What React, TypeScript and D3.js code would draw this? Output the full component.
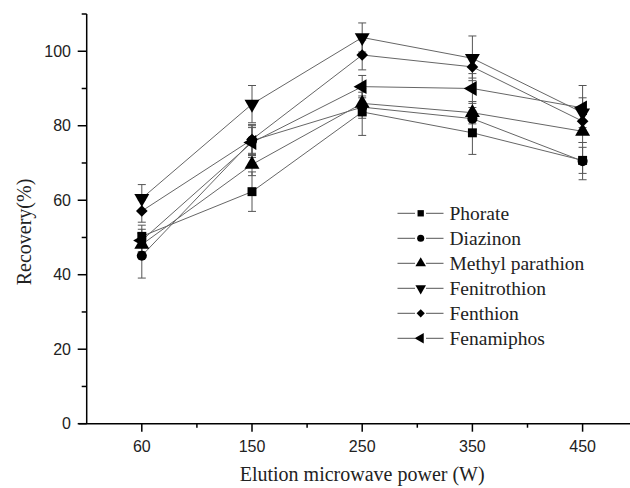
import React, { useEffect, useRef } from 'react';
import * as d3 from 'd3';

// Elution microwave power (W) categories
const powers = ['60', '150', '250', '350', '450'];
const seriesNames = ['Phorate', 'Diazinon', 'Methyl parathion', 'Fenitrothion', 'Fenthion', 'Fenamiphos'];

// recovery (%) per compound
const phorate = [50.3, 62.3, 83.7, 78.1, 70.7];
const diazinon = [45.1, 76.0, 85.0, 81.9, 70.5];
const methylParathion = [48.1, 69.6, 86.0, 83.5, 78.5];
const fenitrothion = [60.5, 85.8, 103.7, 98.1, 83.5];
const fenthion = [57.1, 76.3, 99.0, 95.8, 81.2];
const fenamiphos = [49.2, 75.5, 90.5, 90.0, 84.8];

// error bar half-widths
const phorateErr = [3, 5.3, 6.3, 5.8, 3.5];
const diazinonErr = [6, 4, 3, 3, 5];
const methylParathionErr = [3, 3, 3, 3, 3];
const fenitrothionErr = [3.7, 5, 3.9, 6, 4];
const fenthionErr = [3, 4, 4, 3, 3];
const fenamiphosErr = [3, 4, 3, 4, 6];

const yMajor = [0, 20, 40, 60, 80, 100];
const yMinor = [10, 30, 50, 70, 90, 110];

const values = [phorate, diazinon, methylParathion, fenitrothion, fenthion, fenamiphos];
const errors = [phorateErr, diazinonErr, methylParathionErr, fenitrothionErr, fenthionErr, fenamiphosErr];

const width = 630;
const height = 488;

// symbol type, rotation, scale for each series
const shapes: [d3.SymbolType, number, number][] = [
    [d3.symbolSquare, 0, 1],
    [d3.symbolCircle, 0, 1],
    [d3.symbolTriangle, 0, 1.1],
    [d3.symbolTriangle, 180, 1.1],
    [d3.symbolSquare, 45, 0.92],
    [d3.symbolTriangle, -90, 1.1],
];

export default function App() {
    const ref = useRef<SVGSVGElement>(null);

    useEffect(() => {
        const svg = d3.select(ref.current);
        svg.selectAll('*').remove();

        const left = 86.7, bottom = 423.7;
        const x = d3.scalePoint<string>().domain(powers).range([left, 637.7]).padding(0.5);
        const y = d3.scaleLinear().domain([0, 110]).range([bottom, 14]);

        const sym = (i: number, area: number) => {
            const [type, , k] = shapes[i];
            return d3.symbol().type(type).size(area * k * k)() as string;
        };

        // connecting lines
        const line = d3.line<number>().x((_, j) => x(powers[j]) as number).y(d => y(d));
        values.forEach(v => {
            svg.append('path')
                .attr('d', line(v))
                .attr('fill', 'none')
                .attr('stroke', '#666')
                .attr('stroke-width', 1);
        });

        // error bars
        values.forEach((v, i) => {
            v.forEach((d, j) => {
                const cx = x(powers[j]) as number;
                const e = errors[i][j];
                const g = svg.append('g').attr('stroke', '#555').attr('stroke-width', 1);
                g.append('line').attr('x1', cx).attr('x2', cx).attr('y1', y(d - e)).attr('y2', y(d + e));
                [d - e, d + e].forEach(t => {
                    g.append('line').attr('x1', cx - 4).attr('x2', cx + 4).attr('y1', y(t)).attr('y2', y(t));
                });
            });
        });

        // markers
        values.forEach((v, i) => {
            svg.selectAll(null)
                .data(v)
                .enter()
                .append('path')
                .attr('d', sym(i, 80))
                .attr('transform', (d, j) => `translate(${x(powers[j])},${y(d)}) rotate(${shapes[i][1]})`)
                .attr('fill', '#000');
        });

        // axes
        const ax = svg.append('g').attr('stroke', '#000').attr('stroke-width', 1.5);
        ax.append('line').attr('x1', left).attr('x2', left).attr('y1', 14).attr('y2', bottom);
        ax.append('line').attr('x1', left - 8).attr('x2', width).attr('y1', bottom).attr('y2', bottom);
        yMajor.forEach(t => {
            ax.append('line').attr('x1', left - 9).attr('x2', left).attr('y1', y(t)).attr('y2', y(t));
        });
        yMinor.forEach(t => {
            ax.append('line').attr('x1', left - 5).attr('x2', left).attr('y1', y(t)).attr('y2', y(t));
        });
        powers.forEach((p, j) => {
            const cx = x(p) as number;
            ax.append('line').attr('x1', cx).attr('x2', cx).attr('y1', bottom).attr('y2', bottom + 8);
            if (j < powers.length - 1) {
                const mx = cx + x.step() / 2;
                ax.append('line').attr('x1', mx).attr('x2', mx).attr('y1', bottom).attr('y2', bottom + 4);
            }
        });

        svg.selectAll('.ylab')
            .data(yMajor)
            .enter()
            .append('text')
            .attr('x', 71)
            .attr('y', d => y(d))
            .attr('dy', '0.36em')
            .attr('text-anchor', 'end')
            .attr('font-family', 'Liberation Sans, Arial, sans-serif')
            .attr('font-size', 16)
            .attr('fill', '#222')
            .text(d => d);

        svg.selectAll('.xlab')
            .data(powers)
            .enter()
            .append('text')
            .attr('x', d => x(d) as number)
            .attr('y', 452)
            .attr('text-anchor', 'middle')
            .attr('font-family', 'Liberation Sans, Arial, sans-serif')
            .attr('font-size', 16)
            .attr('fill', '#222')
            .text(d => d);

        svg.append('text')
            .attr('x', x('250') as number)
            .attr('y', 481)
            .attr('text-anchor', 'middle')
            .attr('font-family', 'Liberation Serif, Times New Roman, serif')
            .attr('font-size', 20)
            .attr('fill', '#222')
            .text('Elution microwave power (W)');

        svg.append('text')
            .attr('transform', 'translate(31,232) rotate(-90)')
            .attr('text-anchor', 'middle')
            .attr('font-family', 'Liberation Serif, Times New Roman, serif')
            .attr('font-size', 20)
            .attr('fill', '#222')
            .text('Recovery(%)');

        // legend
        seriesNames.forEach((name, i) => {
            const ly = 213.3 + i * 25;
            const g = svg.append('g');
            g.append('line').attr('x1', 397.5).attr('x2', 415).attr('y1', ly).attr('y2', ly).attr('stroke', '#555');
            g.append('line').attr('x1', 426).attr('x2', 443.5).attr('y1', ly).attr('y2', ly).attr('stroke', '#555');
            g.append('path')
                .attr('d', sym(i, 40))
                .attr('transform', `translate(420.7,${ly}) rotate(${shapes[i][1]})`)
                .attr('fill', '#000');
            g.append('text')
                .attr('x', 449.5)
                .attr('y', ly)
                .attr('dy', '0.33em')
                .attr('font-family', 'Liberation Serif, Times New Roman, serif')
                .attr('font-size', 19.5)
                .attr('fill', '#222')
                .text(name);
        });
    }, []);

    return (
        <svg ref={ref} width={width} height={height}
            style={{ position: 'absolute', left: 0, top: 0, background: '#fff' }} />
    );
}
